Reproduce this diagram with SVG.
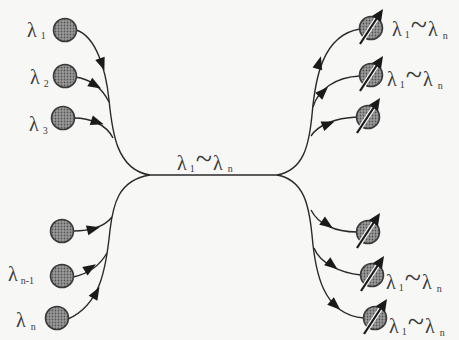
<svg xmlns="http://www.w3.org/2000/svg" xmlns:xlink="http://www.w3.org/1999/xlink" width="459" height="340" viewBox="0 0 459 340">
<style>
.bg{fill:#f7f7f5}
.ln{fill:none;stroke:#2a2a2a;stroke-width:1.4}
.src{fill:url(#dots);stroke:#3a3a3a;stroke-width:1.6}
.ah{fill:#1a1a1a}
.lam{font-family:"Liberation Serif","DejaVu Serif",serif;font-size:20px;fill:#3a3a3a}
.sub{font-size:10px}
.til{font-size:30px}
.pw{stroke:#f4f4f4;stroke-width:4.5;fill:none}
.pd{stroke:#1a1a1a;stroke-width:2.2;fill:none}
</style>
<defs>
<pattern id="dots" width="3" height="3" patternUnits="userSpaceOnUse">
<rect width="3" height="3" fill="#9a9a9a"/>
<circle cx="1.5" cy="1.5" r="0.9" fill="#555"/>
</pattern>
<path id="ah" d="M7,0 L-6,-5 L-6,5 Z"/>
<g id="det">
<circle r="11.5" class="src"/>
<line x1="-11" y1="16" x2="8" y2="-13" class="pw"/>
<line x1="-11" y1="16" x2="8" y2="-13" class="pd"/>
<path d="M12,-19 L1,-12 L10,-6 Z" fill="#1a1a1a"/>
</g>
</defs>
<rect width="459" height="340" class="bg"/>

<g id="connectors">
<path class="ln" d="M150,175 L277,175"/>
<path class="ln" d="M76,30 C96,36 106,70 109,100 C112,130 116,170 150,175"/>
<path class="ln" d="M75,77 C90,79 102,88 109,102"/>
<path class="ln" d="M74,118 C90,118 106,124 113,138"/>
<path class="ln" d="M150,175 C118,180 113,205 110,230 C106,270 100,305 68,319"/>
<path class="ln" d="M73,231 C90,231 104,227 112,217"/>
<path class="ln" d="M73,277 C88,274 100,265 107,253"/>
<path class="ln" d="M277,175 C304,170 309,145 312,115 C315,80 322,35 360,29"/>
<path class="ln" d="M313,107 C318,90 335,77 360,76"/>
<path class="ln" d="M311,136 C318,125 335,118 357,117"/>
<path class="ln" d="M277,175 C304,180 309,205 312,235 C315,270 322,315 364,318"/>
<path class="ln" d="M311,210 C318,224 335,232 357,232"/>
<path class="ln" d="M314,248 C320,263 340,273 361,275"/>
<use href="#ah" class="ah" transform="translate(102,64) rotate(70)"/>
<use href="#ah" class="ah" transform="translate(95,85) rotate(30)"/>
<use href="#ah" class="ah" transform="translate(97,122) rotate(18)"/>
<use href="#ah" class="ah" transform="translate(93,229) rotate(-14)"/>
<use href="#ah" class="ah" transform="translate(90,268) rotate(-32)"/>
<use href="#ah" class="ah" transform="translate(96,293) rotate(-60)"/>
<use href="#ah" class="ah" transform="translate(319,63) rotate(-74)"/>
<use href="#ah" class="ah" transform="translate(323,92) rotate(-45)"/>
<use href="#ah" class="ah" transform="translate(328,124) rotate(-22)"/>
<use href="#ah" class="ah" transform="translate(327,224) rotate(35)"/>
<use href="#ah" class="ah" transform="translate(332,265) rotate(38)"/>
<use href="#ah" class="ah" transform="translate(335,305) rotate(42)"/>
</g>

<g id="s1"><circle cx="65" cy="30" r="11.5" class="src"/><text class="lam" x="27" y="37">λ<tspan class="sub" dx="4" dy="2">1</tspan></text></g>
<g id="s2"><circle cx="65" cy="76" r="11.5" class="src"/><text class="lam" x="30" y="84">λ<tspan class="sub" dx="4" dy="3">2</tspan></text></g>
<g id="s3"><circle cx="63" cy="118" r="11.5" class="src"/><text class="lam" x="29" y="131">λ<tspan class="sub" dx="4" dy="3">3</tspan></text></g>
<g id="s4"><circle cx="62" cy="231" r="11.5" class="src"/></g>
<g id="s5"><circle cx="62" cy="276" r="11.5" class="src"/><text class="lam" x="8" y="281">λ<tspan class="sub" dx="3" dy="3">n-1</tspan></text></g>
<g id="s6"><circle cx="57" cy="318" r="11.5" class="src"/><text class="lam" x="16" y="327">λ<tspan class="sub" dx="5" dy="3">n</tspan></text></g>

<g id="trunk-label"><text class="lam" x="177" y="170">λ<tspan class="sub" dx="3" dy="2">1</tspan><tspan class="til" dx="1" dy="-3">~</tspan><tspan dx="1" dy="1">λ</tspan><tspan class="sub" dx="5" dy="2">n</tspan></text></g>

<g id="d1"><use href="#det" x="371" y="28"/><text class="lam" x="392" y="36">λ<tspan class="sub" dx="3" dy="2">1</tspan><tspan class="til" dx="1" dy="-3">~</tspan><tspan dx="1" dy="1">λ</tspan><tspan class="sub" dx="5" dy="3">n</tspan></text></g>
<g id="d2"><use href="#det" x="371" y="75"/><text class="lam" x="387" y="86">λ<tspan class="sub" dx="3" dy="2">1</tspan><tspan class="til" dx="1" dy="-3">~</tspan><tspan dx="1" dy="1">λ</tspan><tspan class="sub" dx="5" dy="3">n</tspan></text></g>
<g id="d3"><use href="#det" x="368" y="117"/></g>
<g id="d4"><use href="#det" x="368" y="232"/></g>
<g id="d5"><use href="#det" x="372" y="275"/><text class="lam" x="386" y="289">λ<tspan class="sub" dx="3" dy="2">1</tspan><tspan class="til" dx="1" dy="-3">~</tspan><tspan dx="1" dy="1">λ</tspan><tspan class="sub" dx="5" dy="3">n</tspan></text></g>
<g id="d6"><use href="#det" x="375" y="318"/><text class="lam" x="389" y="333">λ<tspan class="sub" dx="3" dy="2">1</tspan><tspan class="til" dx="1" dy="-3">~</tspan><tspan dx="1" dy="1">λ</tspan><tspan class="sub" dx="5" dy="3">n</tspan></text></g>
</svg>
